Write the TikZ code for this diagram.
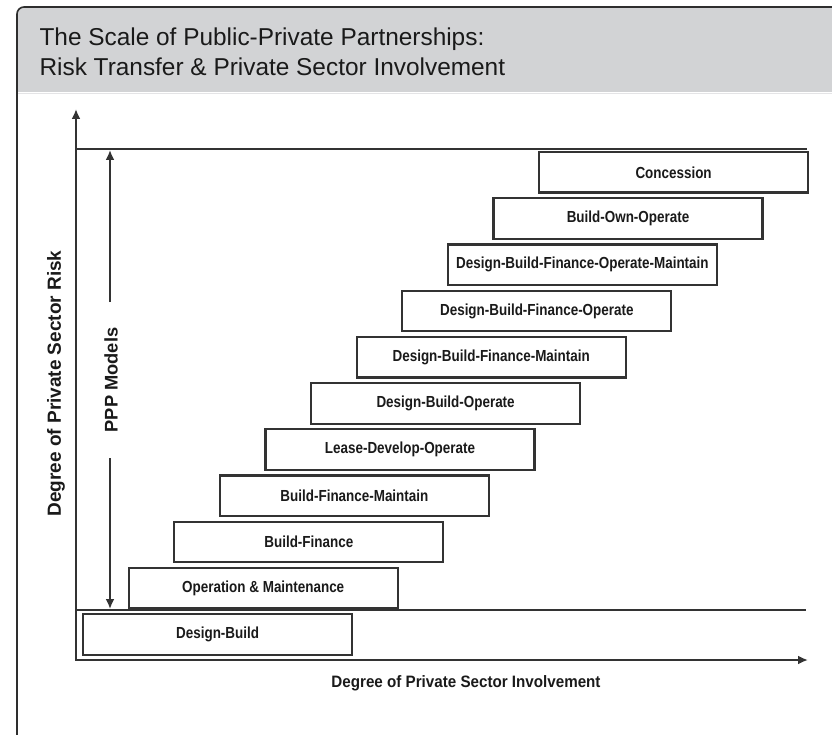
\documentclass[tikz,border=0pt]{standalone}
\usepackage{fontspec}
\setmainfont{Liberation Sans}
\newfontfamily\titlefont{Liberation Sans}
\newfontfamily\labelfont[FakeStretch=0.92]{Liberation Sans}
\newfontfamily\boxfont[FakeStretch=0.84]{Liberation Sans}
\usetikzlibrary{arrows.meta}
\definecolor{banner}{HTML}{D2D3D5}
\definecolor{linegray}{HTML}{333333}
\definecolor{framegray}{HTML}{2E2E2E}
\definecolor{inkgray}{HTML}{1A1A1A}
\definecolor{shadegray}{HTML}{E4E4E6}
\begin{document}
\begin{tikzpicture}[x=1pt,y=-1pt,
  pppbox/.style={draw=linegray, line width=2.2pt, fill=white, minimum width=269pt,
    minimum height=40.5pt, inner sep=0pt, anchor=north west,
    font=\boxfont\bfseries\fontsize{16}{18}\selectfont, text=inkgray},
  axisline/.style={draw=linegray, line width=2.3pt},
  guideline/.style={draw=linegray, line width=1.9pt},
  tipend/.style={-{Latex[length=10pt,width=9pt]}},
  titletext/.style={anchor=base west, font=\titlefont\fontsize{24.4}{28}\selectfont, text=inkgray},
  axislabel/.style={text=inkgray, inner sep=0pt}
]
\useasboundingbox (0,0) rectangle (832,735);
\clip (0,0) rectangle (832,735);
% frame and banner
\fill[banner, rounded corners=7pt] (17,92) -- (17,7) -- (850,7) -- (850,92);
\draw[shadegray, line width=1.2pt] (18,93.5) -- (850,93.5);
\draw[framegray, line width=1.6pt, rounded corners=7pt] (17,760) -- (17,7) -- (850,7);
% title
\node[titletext] (title1) at (36,46) {The Scale of Public-Private Partnerships:};
\node[titletext] (title2) at (36,76) {Risk Transfer \& Private Sector Involvement};
% axes
\coordinate (O) at (76,660);
\coordinate (Ytop) at (76,109);
\coordinate (Xend) at (808,660);
\draw[axisline, {Latex[length=10pt,width=9pt]}-{Latex[length=10pt,width=9pt]}] (Ytop) -- (O) -- (Xend);
% guide lines
\coordinate (T1) at (76,149);
\coordinate (T2) at (807,149);
\coordinate (B1) at (76,610);
\coordinate (B2) at (806,610);
\draw[guideline] (T1) -- (T2);
\draw[guideline] (B1) -- (B2);
% PPP models arrow
\node[axislabel, rotate=90, font=\titlefont\bfseries\fontsize{18.3}{20}\selectfont] (ppp) at (111,380) {PPP Models};
\coordinate (P1) at (110,150);
\coordinate (P2) at (110,302);
\coordinate (P3) at (110,458);
\coordinate (P4) at (110,609);
\draw[guideline, tipend] (P2) -- (P1);
\draw[guideline, tipend] (P3) -- (P4);
% axis labels
\node[axislabel, rotate=90, font=\titlefont\bfseries\fontsize{19}{21}\selectfont] (ylab) at (56,383.5) {Degree of Private Sector Risk};
\node[axislabel, font=\labelfont\bfseries\fontsize{16.5}{19}\selectfont] (xlab) at (466,683) {Degree of Private Sector Involvement};
% model boxes
\foreach \i/\t in {0/Design-Build, 1/Operation \& Maintenance, 2/Build-Finance,
  3/Build-Finance-Maintain, 4/Lease-Develop-Operate, 5/Design-Build-Operate,
  6/Design-Build-Finance-Maintain, 7/Design-Build-Finance-Operate,
  8/Design-Build-Finance-Operate-Maintain, 9/Build-Own-Operate, 10/Concession}
  \node[pppbox] (b\i) at ({82+45.6*\i},{613-46.2*\i}) {\t};
\end{tikzpicture}
\end{document}
